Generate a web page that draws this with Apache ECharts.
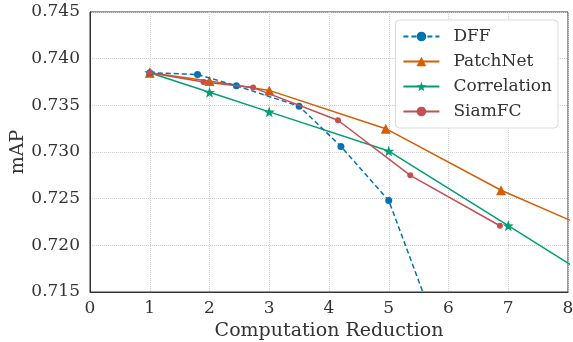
<!DOCTYPE html>
<html>
<head>
<meta charset="utf-8">
<script src="https://cdn.jsdelivr.net/npm/echarts@6/dist/echarts.min.js"></script>
<style>
  html, body { margin: 0; padding: 0; background: #fff; }
  #chart { width: 573px; height: 342px; }
</style>
</head>
<body>
<div id="chart"></div>
<script>
// values (last points run past the axes and get clipped)
const dffX = [1, 1.8, 2.45, 3.5, 4.2, 5, 6]
const dffY = [0.7385, 0.7383, 0.7371, 0.7349, 0.7306, 0.7248, 0.7076]
const patchX = [1, 2, 3, 4.95, 6.88, 9]
const patchY = [0.7385, 0.7376, 0.7366, 0.7325, 0.7259, 0.7200]
const corrX = [1, 2, 3, 5, 7, 9]
const corrY = [0.7385, 0.7364, 0.7343, 0.7301, 0.7221, 0.7141]
const siamX = [1, 1.9, 2.73, 4.15, 5.36, 6.86]
const siamY = [0.7385, 0.7375, 0.7369, 0.7334, 0.7275, 0.7221]

const xTicks = [0, 8, 1]
const yTicks = [0.715, 0.745, 0.005]

const font = 'DejaVu Serif'

function pairs(xs, ys) {
  return xs.map((x, i) => [x, ys[i]])
}

const chart = echarts.init(document.getElementById('chart'), null, { renderer: 'canvas' })

chart.setOption({
  animation: false,
  textStyle: { fontFamily: font },
  grid: {
    left: 90, right: 5, top: 12, bottom: 50,
    outerBoundsMode: 'none',
    containLabel: false,
    show: true, borderColor: '#333', borderWidth: 1
  },
  legend: {
    right: 15, top: 20,
    orient: 'vertical',
    itemWidth: 36, itemHeight: 12, itemGap: 8,
    padding: [8, 6, 8, 7],
    backgroundColor: '#fff',
    borderColor: '#d9d9d9', borderWidth: 1, borderRadius: 4,
    textStyle: { fontFamily: font, fontSize: 17, color: '#333', padding: [0, 0, 0, 9] },
    data: ['DFF', 'PatchNet', 'Correlation', 'SiamFC']
  },
  xAxis: {
    type: 'value',
    min: xTicks[0], max: xTicks[1], interval: xTicks[2],
    name: 'Computation Reduction',
    nameLocation: 'middle', nameGap: 30, nameMoveOverlap: false,
    nameTextStyle: { fontFamily: font, fontSize: 19, color: '#333' },
    axisLine: { show: true, lineStyle: { color: '#333' } },
    axisTick: { show: false },
    axisLabel: { fontFamily: font, fontSize: 17, color: '#333', margin: 8 },
    splitLine: { show: true, lineStyle: { color: '#cfcfcf', type: 'dotted', width: 1 } }
  },
  yAxis: {
    type: 'value',
    min: yTicks[0], max: yTicks[1], interval: yTicks[2],
    name: 'mAP',
    nameLocation: 'middle', nameGap: 62, nameMoveOverlap: false,
    nameTextStyle: { fontFamily: font, fontSize: 19, color: '#333' },
    axisLine: { show: true, lineStyle: { color: '#333' } },
    axisTick: { show: false },
    axisLabel: {
      fontFamily: font, fontSize: 17, color: '#333', margin: 10,
      formatter: v => v.toFixed(3)
    },
    splitLine: { show: true, lineStyle: { color: '#cfcfcf', type: 'dotted', width: 1 } }
  },
  series: [
    {
      name: 'DFF', type: 'line', data: pairs(dffX, dffY),
      color: '#0173b2',
      symbol: 'circle', symbolSize: 7,
      lineStyle: { width: 1.5, type: [5, 3] },
      z: 4
    },
    {
      name: 'PatchNet', type: 'line', data: pairs(patchX, patchY),
      color: '#d55e00',
      symbol: 'triangle', symbolSize: 10,
      lineStyle: { width: 1.5 },
      z: 3
    },
    {
      name: 'Correlation', type: 'line', data: pairs(corrX, corrY),
      color: '#029e73',
      symbol: 'path://M0,-10 L2.35,-3.24 L9.51,-3.09 L3.8,1.24 L5.88,8.09 L0,4 L-5.88,8.09 L-3.8,1.24 L-9.51,-3.09 L-2.35,-3.24 Z',
      symbolSize: 11,
      lineStyle: { width: 1.5 },
      z: 2
    },
    {
      name: 'SiamFC', type: 'line', data: pairs(siamX, siamY),
      color: '#c44e52',
      symbol: 'circle', symbolSize: 6,
      lineStyle: { width: 1.5 },
      z: 5
    }
  ]
})
</script>
</body>
</html>
